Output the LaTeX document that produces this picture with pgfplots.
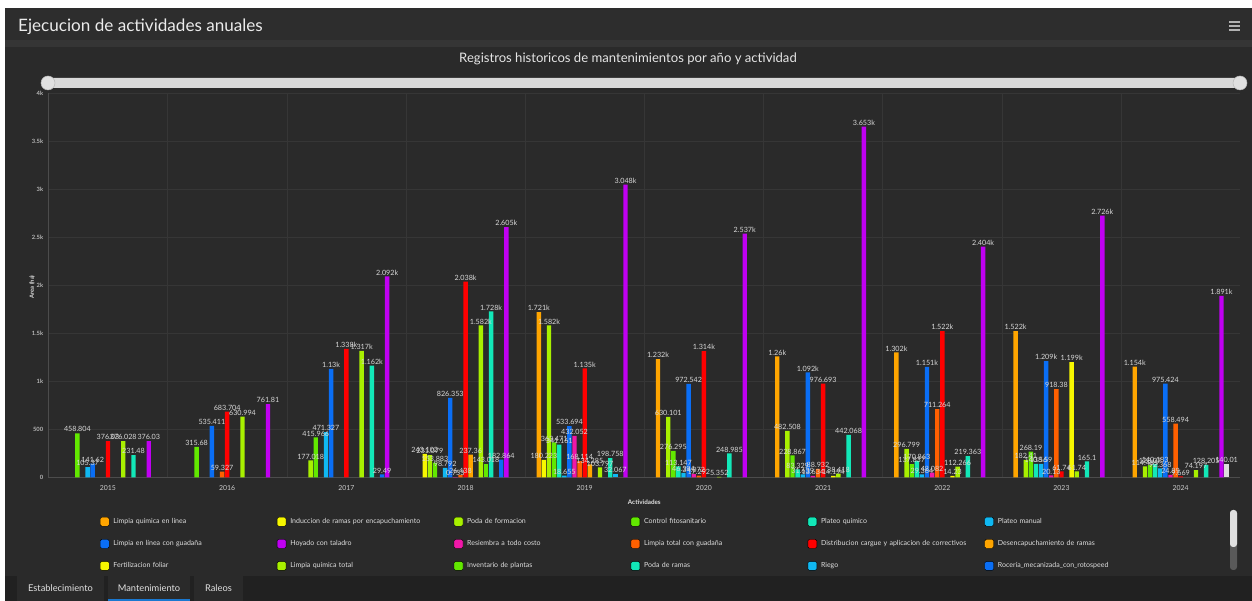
\documentclass[border=0pt]{standalone}
\usepackage{fontspec}
\setmainfont{Lato}
\usepackage{pgfplots}
\pgfplotsset{compat=1.18}
\definecolor{bg}{HTML}{2A2A2A}
\definecolor{hdr}{HTML}{2D2D2D}
\definecolor{band}{HTML}{353535}
\definecolor{tabbar}{HTML}{212121}
\definecolor{tabbox}{HTML}{2A2A2A}
\definecolor{tabline}{HTML}{1A78D0}
\definecolor{lbl}{HTML}{D8D8D8}
\definecolor{gridc}{HTML}{363636}
\definecolor{corange}{HTML}{FFA500}
\definecolor{cyellow}{HTML}{F7F700}
\definecolor{clime}{HTML}{A8F000}
\definecolor{cgreen}{HTML}{62E800}
\definecolor{cteal}{HTML}{12E8B8}
\definecolor{clblue}{HTML}{10B8F2}
\definecolor{cblue}{HTML}{0A6EF5}
\definecolor{cpurple}{HTML}{C000F2}
\definecolor{cmag}{HTML}{F018A8}
\definecolor{cored}{HTML}{FF6000}
\definecolor{cred}{HTML}{FF0000}
\definecolor{cgray}{HTML}{DCDCDC}
\pgfplotsset{
  b/.style 2 args={ybar, bar width=4.4pt, bar shift=#1, fill=#2, draw=none, forget plot,
    point meta=explicit symbolic, nodes near coords,
    every node near coord/.append style={font=\fontsize{7.2}{8}\selectfont, text=lbl, inner sep=1pt, anchor=south, xshift=#1}},
}
\begin{document}
\begin{tikzpicture}[x=1pt,y=1pt]
% background panels
\fill[white] (0,0) rectangle (1252,601);
\fill[bg] (5,0) rectangle (1252,593);
\fill[hdr] (5,561) rectangle (1252,593);
\fill[band] (5,554) rectangle (1252,561);
\node[anchor=base west, font=\fontsize{17.1}{19}\selectfont, text=white!92!black, inner sep=0pt] at (18,569) {Ejecucion de actividades anuales};
\draw[white!70!black, line width=1.2pt] (1229,579) -- (1240,579) (1229,575) -- (1240,575) (1229,571) -- (1240,571);
\node[font=\fontsize{13.1}{15}\selectfont, text=white!90!black, inner sep=0pt] at (628,542) {Registros historicos de mantenimientos por año y actividad};
% slider
\fill[white!85!black, rounded corners=5pt] (48,513) rectangle (1240,523);
\filldraw[fill=white!88!black, draw=white!72!black, line width=0.5pt] (48,518) circle (7);
\filldraw[fill=white!88!black, draw=white!72!black, line width=0.5pt] (1240,518) circle (7);
% bottom tabs
\fill[tabbar] (5,0) rectangle (1252,25);
\fill[tabbox] (17,0) rectangle (104,25);
\fill[tabbox] (108,0) rectangle (190,25);
\fill[tabbox] (194,0) rectangle (243,25);
\fill[tabline] (108,0) rectangle (190,2.2);
\node[font=\fontsize{9.3}{10}\selectfont, text=white!88!black] at (60.5,12.5) {Establecimiento};
\node[font=\fontsize{9.3}{10}\selectfont, text=white!88!black] at (149,12.5) {Mantenimiento};
\node[font=\fontsize{9.3}{10}\selectfont, text=white!88!black] at (218.5,12.5) {Raleos};
% scrollbar
\fill[white!35!black, rounded corners=3pt] (1230,31) rectangle (1237,91);
\fill[white!88!black, rounded corners=3pt] (1230,54) rectangle (1237,91);
\begin{axis}[
  scale only axis, width=1191.9pt, height=384pt,
  at={(48.4pt,123.7pt)}, anchor=south west,
  xmin=-0.5, xmax=9.5, ymin=0, ymax=4000,
  clip=false,
  axis lines*=left,
  axis line style={draw=white!30!black, line width=0.6pt},
  major tick length=0pt, minor tick length=0pt,
  xtick={0,...,9},
  xticklabels={2015,2016,2017,2018,2019,2020,2021,2022,2023,2024},
  minor xtick={0.5,1.5,...,8.5},
  xminorgrids, ymajorgrids,
  minor grid style={draw=gridc, line width=0.5pt},
  major grid style={draw=gridc, line width=0.5pt},
  ytick={0,500,...,4000},
  yticklabels={0,500,1k,1.5k,2k,2.5k,3k,3.5k,4k},
  xticklabel style={font=\fontsize{6.9}{8}\selectfont, text=white!80!black, anchor=center, yshift=-10.7pt},
  yticklabel style={font=\bfseries\fontsize{5.8}{6}\selectfont, text=white!72!black, anchor=east, inner sep=0pt, xshift=-5pt},
  xlabel={Actividades},
  xlabel style={font=\bfseries\fontsize{6.3}{7}\selectfont, text=white!88!black, at={(axis description cs:0.5,-0.064)}, anchor=center},
  ylabel={Area (ha)},
  ylabel style={font=\bfseries\fontsize{5.8}{6}\selectfont, text=white!88!black, at={(axis description cs:-0.0138,0.4956)}, anchor=center},
  legend columns=6,
  legend cell align=left,
  legend image code/.code={\fill[#1, rounded corners=1.5pt] (0pt,-4.5pt) rectangle (9pt,4.5pt);},
  legend style={at={(axis description cs:0.0433,-0.1034)}, anchor=north west, draw=none, fill=none,
    inner sep=0pt, outer sep=0pt, row sep=12.7pt,
    font=\fontsize{7}{8}\selectfont, text=white!87!black,
    nodes={inner sep=0pt, text width=163.5pt, align=left},
    /tikz/every odd column/.append style={column sep=4pt},
    /tikz/every even column/.append style={column sep=0pt}},
]
% slot 0 Limpia quimica en linea
\addplot[b={-45.9pt}{corange}] coordinates {(4,1721)[1.721k] (5,1232)[1.232k] (6,1260)[1.26k] (7,1302)[1.302k] (8,1522)[1.522k] (9,1154)[1.154k]};
% slot 1 Induccion de ramas por encapuchamiento
\addplot[b={-40.8pt}{cyellow}] coordinates {(3,243.102)[243.102] (4,180.223)[180.223]};
% slot 2 Poda de formacion
\addplot[b={-35.7pt}{clime}] coordinates {(2,177.018)[177.018] (3,231.079)[231.079] (4,1582)[1.582k] (5,630.101)[630.101] (6,482.508)[482.508] (7,296.799)[296.799] (8,182.41)[182.41] (9,114.485)[114.485]};
% slot 3 Control fitosanitario
\addplot[b={-30.6pt}{cgreen}] coordinates {(0,458.804)[458.804] (1,315.68)[315.68] (2,415.966)[415.966] (3,153.883)[153.883] (4,363.471)[363.471] (5,276.295)[276.295] (6,228.867)[228.867] (7,137.837)[137.837] (8,268.19)[268.19] (9,128.07)[128.07]};
% slot 4 Plateo quimico
\addplot[b={-25.5pt}{cteal}] coordinates {(4,341.161)[341.161] (5,113.147)[113.147] (6,83.329)[83.329] (7,170.863)[170.863] (8,140.56)[140.56] (9,140.183)[140.183]};
% slot 5 Plateo manual
\addplot[b={-20.4pt}{clblue}] coordinates {(0,105.37)[105.37] (2,471.327)[471.327] (3,98.792)[98.792] (4,18.655)[18.655] (5,46.394)[46.394] (6,31.639)[31.639] (7,29.364)[29.364] (8,138.59)[138.59] (9,92.368)[92.368]};
% slot 6 Limpia en linea con guadana
\addplot[b={-15.3pt}{cblue}] coordinates {(0,141.62)[141.62] (1,535.411)[535.411] (2,1130)[1.13k] (3,826.353)[826.353] (4,533.694)[533.694] (5,972.542)[972.542] (6,1092)[1.092k] (7,1151)[1.151k] (8,1209)[1.209k] (9,975.424)[975.424]};
% slot 7 Resiembra a todo costo
\addplot[b={-10.2pt}{cmag}] coordinates {(3,0.753)[0.753] (4,432.052)[432.052] (5,34.072)[34.072] (6,13.634)[13.634] (7,48.082)[48.082] (8,20.13)[20.13] (9,24.89)[24.89]};
% slot 8 Limpia total con guadana
\addplot[b={-5.1pt}{cored}] coordinates {(1,59.327)[59.327] (3,26.438)[26.438] (4,168.114)[168.114] (5,17.292)[17.292] (6,88.932)[88.932] (7,711.264)[711.264] (8,918.38)[918.38] (9,558.494)[558.494]};
% slot 9 Distribucion cargue y aplicacion de correctivos
\addplot[b={0pt}{cred}] coordinates {(0,376.03)[376.03] (1,683.704)[683.704] (2,1338)[1.338k] (3,2038)[2.038k] (4,1135)[1.135k] (5,1314)[1.314k] (6,976.693)[976.693] (7,1522)[1.522k] (8,61.74)[61.74] (9,9.669)[9.669]};
% slot 10 Desencapuchamiento de ramas
\addplot[b={5.1pt}{corange}] coordinates {(3,237.36)[237.36] (4,134.285)[134.285]};
% slot 11 Fertilizacion foliar
\addplot[b={10.2pt}{cyellow}] coordinates {(6,14.194)[14.194] (7,14.23)[14.23] (8,1199)[1.199k]};
% slot 12 Limpia quimica total
\addplot[b={15.3pt}{clime}] coordinates {(0,376.028)[376.028] (1,630.994)[630.994] (2,1317)[1.317k] (3,1582)[1.582k] (4,103.797)[103.797] (5,5.352)[5.352] (6,38.418)[38.418] (7,112.266)[112.266] (8,61.74)[61.74] (9,74.197)[74.197]};
% slot 13 Inventario de plantas
\addplot[b={20.4pt}{cgreen}] coordinates {(3,143.018)[143.018]};
% slot 14 Poda de ramas
\addplot[b={25.5pt}{cteal}] coordinates {(0,231.48)[231.48] (2,1162)[1.162k] (3,1728)[1.728k] (4,198.758)[198.758] (5,248.985)[248.985] (6,442.068)[442.068] (7,219.363)[219.363] (8,165.1)[165.1] (9,128.205)[128.205]};
% slot 15 Riego
\addplot[b={30.6pt}{clblue}] coordinates {(4,32.067)[32.067]};
% slot 16 Roceria mecanizada con rotospeed
\addplot[b={35.7pt}{cblue}] coordinates {(2,29.49)[29.49] (3,182.864)[182.864]};
% slot 17 Hoyado con taladro
\addplot[b={40.8pt}{cpurple}] coordinates {(0,376.03)[376.03] (1,761.81)[761.81] (2,2092)[2.092k] (3,2605)[2.605k] (4,3048)[3.048k] (5,2537)[2.537k] (6,3653)[3.653k] (7,2404)[2.404k] (8,2726)[2.726k] (9,1891)[1.891k]};
% slot 18 (entry below the visible legend)
\addplot[b={45.9pt}{cgray}] coordinates {(9,140.01)[140.01]};
% legend
\addlegendimage{fill=corange}\addlegendentry{Limpia química en línea}
\addlegendimage{fill=cyellow}\addlegendentry{Induccion de ramas por encapuchamiento}
\addlegendimage{fill=clime}\addlegendentry{Poda de formacion}
\addlegendimage{fill=cgreen}\addlegendentry{Control fitosanitario}
\addlegendimage{fill=cteal}\addlegendentry{Plateo químico}
\addlegendimage{fill=clblue}\addlegendentry{Plateo manual}
\addlegendimage{fill=cblue}\addlegendentry{Limpia en línea con guadaña}
\addlegendimage{fill=cpurple}\addlegendentry{Hoyado con taladro}
\addlegendimage{fill=cmag}\addlegendentry{Resiembra a todo costo}
\addlegendimage{fill=cored}\addlegendentry{Limpia total con guadaña}
\addlegendimage{fill=cred}\addlegendentry{Distribucion cargue y aplicacion de correctivos}
\addlegendimage{fill=corange}\addlegendentry{Desencapuchamiento de ramas}
\addlegendimage{fill=cyellow}\addlegendentry{Fertilizacion foliar}
\addlegendimage{fill=clime}\addlegendentry{Limpia química total}
\addlegendimage{fill=cgreen}\addlegendentry{Inventario de plantas}
\addlegendimage{fill=cteal}\addlegendentry{Poda de ramas}
\addlegendimage{fill=clblue}\addlegendentry{Riego}
\addlegendimage{fill=cblue}\addlegendentry{Rocería\_mecanizada\_con\_rotospeed}
\end{axis}
\end{tikzpicture}
\end{document}
